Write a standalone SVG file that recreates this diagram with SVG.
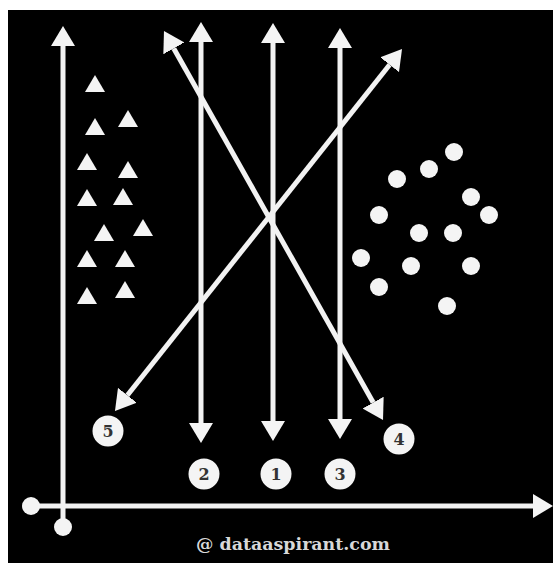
<svg xmlns="http://www.w3.org/2000/svg" width="553" height="563" viewBox="0 0 553 563">
<style>
.ln{stroke:#f2f2f2;stroke-width:5;fill:none;marker-start:url(#ah);marker-end:url(#ah)}
.ax{stroke:#f2f2f2;stroke-width:5;fill:none;marker-end:url(#ah)}
.tri{fill:#f4f4f4}
.dot{fill:#f4f4f4}
.lbl circle{fill:#f4f4f4}
.lbl text{font-family:"DejaVu Serif","Liberation Serif",serif;font-size:16px;font-weight:bold;fill:#333;text-anchor:middle}
.wm{font-family:"DejaVu Serif","Liberation Serif",serif;font-size:17px;font-weight:bold;fill:#d8d8d8;text-anchor:middle}
</style>
<defs>
<marker id="ah" markerUnits="userSpaceOnUse" viewBox="0 -12 20 24" refX="0" refY="0" markerWidth="20" markerHeight="24" orient="auto-start-reverse">
<path d="M0,-12 L20,0 L0,12 Z" fill="#f4f4f4"/>
</marker>
</defs>
<rect x="0" y="0" width="553" height="563" fill="#ffffff"/>
<rect x="8" y="10" width="545" height="553" fill="#000000"/>
<g id="connectors">
<line class="ax" x1="63" y1="527" x2="63" y2="46"/>
<line class="ax" x1="31" y1="506" x2="533" y2="506"/>
<line class="ln" x1="201" y1="42" x2="201" y2="423"/>
<line class="ln" x1="273" y1="43" x2="273" y2="421"/>
<line class="ln" x1="340" y1="48" x2="340" y2="419"/>
<line class="ln" x1="173.8" y1="48.4" x2="373.2" y2="402.6"/>
<line class="ln" x1="389.6" y1="64.7" x2="127.4" y2="395.3"/>
</g>
<g id="axis-origin">
<circle cx="31" cy="506" r="9" fill="#f4f4f4"/>
<circle cx="63" cy="527" r="9" fill="#f4f4f4"/>
</g>
<g id="triangles" class="tri">
<polygon points="95,75 85,92 105,92"/>
<polygon points="128,110 118,127 138,127"/>
<polygon points="95,118 85,135 105,135"/>
<polygon points="87,153 77,170 97,170"/>
<polygon points="128,161 118,178 138,178"/>
<polygon points="87,189 77,206 97,206"/>
<polygon points="123,188 113,205 133,205"/>
<polygon points="104,224 94,241 114,241"/>
<polygon points="143,219 133,236 153,236"/>
<polygon points="87,250 77,267 97,267"/>
<polygon points="125,250 115,267 135,267"/>
<polygon points="87,287 77,304 97,304"/>
<polygon points="125,281 115,298 135,298"/>
</g>
<g id="circles" class="dot">
<circle cx="454" cy="152" r="9"/>
<circle cx="429" cy="169" r="9"/>
<circle cx="397" cy="179" r="9"/>
<circle cx="471" cy="197" r="9"/>
<circle cx="489" cy="215" r="9"/>
<circle cx="379" cy="215" r="9"/>
<circle cx="419" cy="233" r="9"/>
<circle cx="453" cy="233" r="9"/>
<circle cx="361" cy="258" r="9"/>
<circle cx="411" cy="266" r="9"/>
<circle cx="471" cy="266" r="9"/>
<circle cx="379" cy="287" r="9"/>
<circle cx="447" cy="306" r="9"/>
</g>
<g id="label-5" class="lbl"><circle cx="108" cy="431" r="15.5"/><text x="108" y="437">5</text></g>
<g id="label-2" class="lbl"><circle cx="204" cy="474" r="15.5"/><text x="204" y="480">2</text></g>
<g id="label-1" class="lbl"><circle cx="276" cy="474" r="15.5"/><text x="276" y="480">1</text></g>
<g id="label-3" class="lbl"><circle cx="340" cy="474" r="15.5"/><text x="340" y="480">3</text></g>
<g id="label-4" class="lbl"><circle cx="399" cy="439" r="15.5"/><text x="399" y="445">4</text></g>
<text class="wm" x="293" y="550" textLength="194" lengthAdjust="spacingAndGlyphs">@ dataaspirant.com</text>
</svg>
